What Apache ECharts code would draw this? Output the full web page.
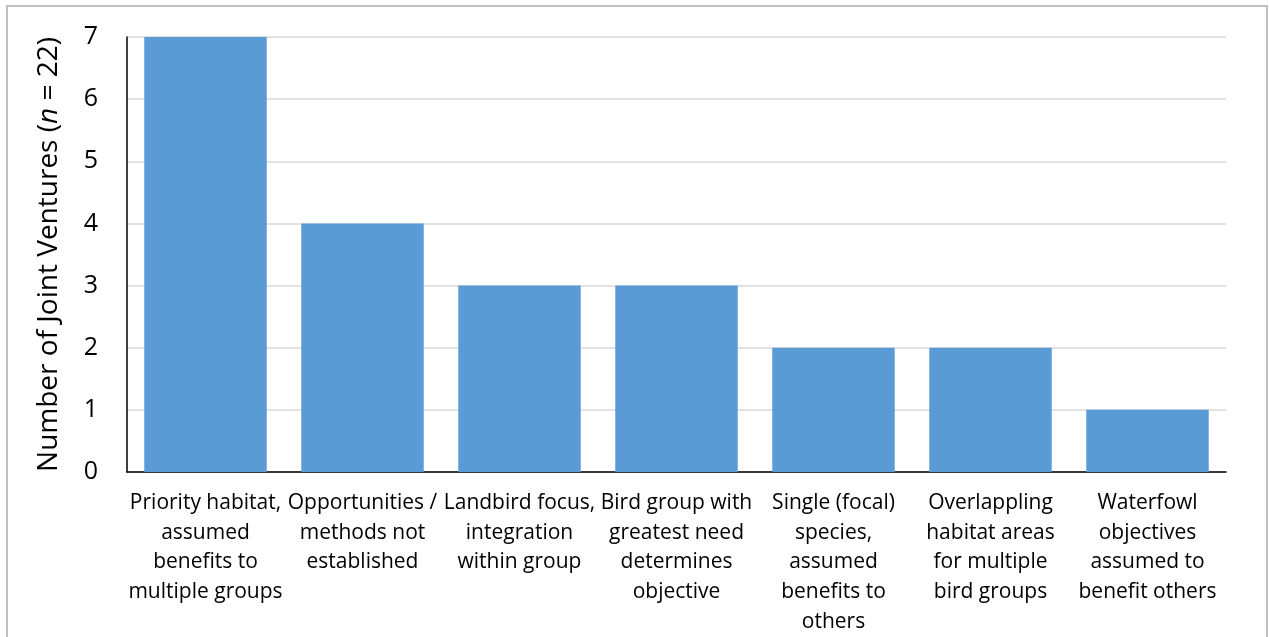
<!DOCTYPE html>
<html>
<head>
<meta charset="utf-8">
<script src="https://cdn.jsdelivr.net/npm/echarts@6/dist/echarts.min.js"></script>
<style>
  html, body { margin: 0; padding: 0; background: #fff; }
  #frame {
    position: absolute; left: 6px; top: 5px; width: 1262px; height: 640px;
    border: 2px solid #bfbfbf; box-sizing: border-box;
  }
  #chart { position: absolute; left: 0; top: 0; width: 1269px; height: 637px; }
</style>
</head>
<body>
<div id="frame"></div>
<div id="chart"></div>
<script>
const categories = [
  'Priority habitat,\nassumed\nbenefits to\nmultiple groups',
  'Opportunities /\nmethods not\nestablished',
  'Landbird focus,\nintegration\nwithin group',
  'Bird group with\ngreatest need\ndetermines\nobjective',
  'Single (focal)\nspecies,\nassumed\nbenefits to\nothers',
  'Overlappling\nhabitat areas\nfor multiple\nbird groups',
  'Waterfowl\nobjectives\nassumed to\nbenefit others'
]
const jointVentures = [7, 4, 3, 3, 2, 2, 1]

const fontFamily = '"Open Sans", "Noto Sans", sans-serif'

const chart = echarts.init(document.getElementById('chart'))

chart.setOption({
  animation: false,
  grid: {
    left: 127,
    right: 43,
    top: 37,
    bottom: 163
  },
  xAxis: {
    type: 'category',
    data: categories,
    axisTick: { show: false },
    axisLine: { lineStyle: { color: '#000', width: 1.5 } },
    axisLabel: {
      interval: 0,
      color: '#000',
      fontFamily,
      fontSize: 21,
      lineHeight: 29.8,
      margin: 16,
      align: 'center'
    }
  },
  yAxis: {
    type: 'value',
    min: 0,
    max: 7,
    interval: 1,
    name: '{a|Number of Joint Ventures (}{i|n}{a| = 22)}',
    nameLocation: 'middle',
    nameGap: 64,
    nameRotate: 90,
    nameTextStyle: {
      rich: {
        a: { fontFamily, fontSize: 28, color: '#000' },
        i: { fontFamily, fontSize: 28, color: '#000', fontStyle: 'italic' }
      }
    },
    axisLine: { show: true, lineStyle: { color: '#000', width: 1.5 } },
    axisTick: { show: false },
    axisLabel: {
      color: '#000',
      fontFamily,
      fontSize: 25,
      margin: 29
    },
    splitLine: { lineStyle: { color: '#d9d9d9', width: 1.5 } }
  },
  series: [
    {
      type: 'bar',
      data: jointVentures,
      barCategoryGap: '22%',
      itemStyle: { color: '#5b9bd5' }
    }
  ]
})
</script>
</body>
</html>
